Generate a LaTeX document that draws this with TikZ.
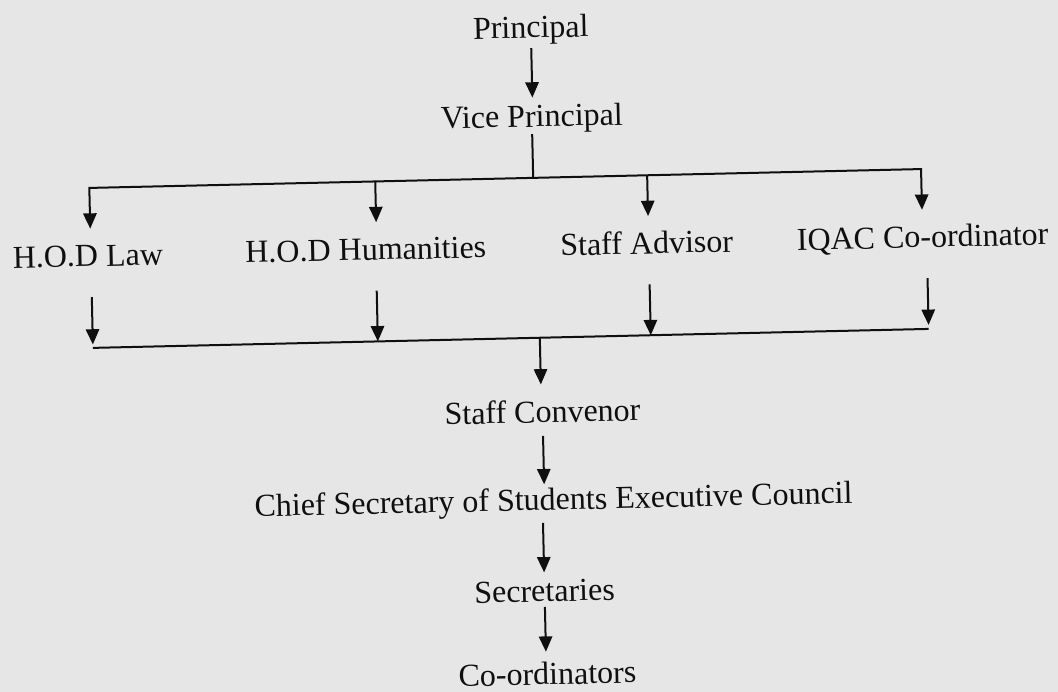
\documentclass[tikz,border=0pt]{standalone}
\usepackage{fontspec}
\setmainfont{Liberation Serif}
\usetikzlibrary{arrows.meta}
\definecolor{bgpaper}{RGB}{231,230,230}
\definecolor{ink}{RGB}{15,15,15}
\begin{document}
\begin{tikzpicture}[x=0.75pt,y=-0.75pt,
  lbl/.style={inner sep=0pt, text height=16.5pt, text depth=5.25pt, anchor=base,
              font=\fontsize{24pt}{28pt}\selectfont, text=ink},
  conn/.style={draw=ink, line width=1.5pt},
  arr/.style={conn, -{Triangle[width=10pt,length=11.5pt]}}]
\fill[bgpaper] (0,0) rectangle (1058,692);
\useasboundingbox (0,0) rectangle (1058,692);
\begin{scope}[rotate around={1.3:(529,346)}, transform shape]
  % nodes
  \node[lbl] (principal) at (538,38) {Principal};
  \node[lbl] (vp) at (537,127) {Vice Principal};
  \node[lbl] (law) at (90,256.5) {H.O.D Law};
  \node[lbl] (hum) at (368,256.5) {H.O.D Humanities};
  \node[lbl] (adv) at (649,256.5) {Staff Advisor};
  \node[lbl] (iqac) at (925,256.5) {IQAC Co-ordinator};
  \node[lbl] (conv) at (541,423) {Staff Convenor};
  \node[lbl] (chief) at (550,510.5) {Chief Secretary of Students Executive Council};
  \node[lbl] (secr) at (539,602) {Secretaries};
  \node[lbl] (coord) at (540,685) {Co-ordinators};
  % bus coordinates
  \coordinate (tb) at (537,178);
  \coordinate (t1) at (93,178);
  \coordinate (t2) at (379,178);
  \coordinate (t3) at (651,178);
  \coordinate (t4) at (925,178);
  \coordinate (b1) at (93,338);
  \coordinate (b2) at (378,338);
  \coordinate (b3) at (651,338);
  \coordinate (b4) at (929,338);
  \coordinate (bm) at (540,338);
  % top part
  \draw[arr, shorten <=2.25pt, shorten >=5.25pt] (principal.south) -- (principal.south |- vp.north);
  \draw[conn] (vp.south) -- (tb);
  \draw[arr, shorten >=11.6pt] (t2) -- (t1) -- (t1 |- law.north);
  \draw[arr, shorten >=11.6pt] (t3) -- (t4) -- (t4 |- iqac.north);
  \draw[conn] (t2) -- (t3);
  \draw[arr, shorten >=11.6pt] (t2) -- (t2 |- hum.north);
  \draw[arr, shorten >=11.6pt] (t3) -- (t3 |- adv.north);
  % bottom bus
  \draw[arr, shorten <=17.6pt, shorten >=2.5pt] (b1 |- law.south) -- (b1);
  \draw[arr, shorten <=17.6pt] (b2 |- hum.south) -- (b2);
  \draw[arr, shorten <=17.6pt] (b3 |- adv.south) -- (b3);
  \draw[arr, shorten <=17.6pt, shorten >=3pt] (b4 |- iqac.south) -- (b4);
  \draw[conn] (b1) -- (b4);
  % spine
  \draw[arr, shorten >=12pt] (bm) -- (bm |- conv.north);
  \draw[arr, shorten <=4.5pt, shorten >=2.7pt] (conv.south) -- (conv.south |- chief.north);
  \draw[arr, shorten <=4pt, shorten >=5.25pt] (secr.north |- chief.south) -- (secr.north);
  \draw[arr, shorten <=-1.5pt, shorten >=8pt] (secr.south) -- (secr.south |- coord.north);
\end{scope}
\end{tikzpicture}
\end{document}
